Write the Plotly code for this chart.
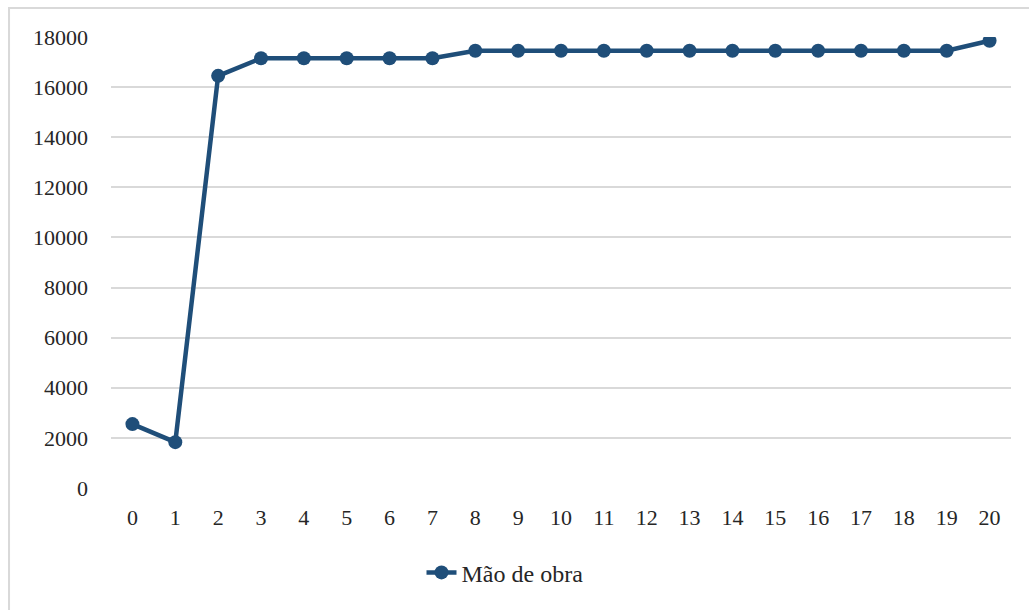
import plotly.graph_objects as go

# Periods on the horizontal axis and labour cost per period
periods = [str(i) for i in range(21)]
mao_de_obra = [2550, 1830, 16450, 17150, 17150, 17150, 17150, 17150,
               17450, 17450, 17450, 17450, 17450, 17450, 17450, 17450,
               17450, 17450, 17450, 17450, 17850]
y_ticks = list(range(0, 18001, 2000))
series_name = "Mão de obra"

line_color = "#1F4E79"
grid_color = "#D9D9D9"
font_family = "Liberation Serif"

fig = go.Figure()
fig.add_trace(go.Scatter(
    x=periods,
    y=mao_de_obra,
    mode="lines+markers",
    name=series_name,
    line=dict(color=line_color, width=4.5),
    marker=dict(color=line_color, size=14),
))

fig.update_layout(
    width=1029,
    height=610,
    margin=dict(l=111, r=18, t=37, b=122),
    paper_bgcolor="white",
    plot_bgcolor="white",
    font=dict(family=font_family, size=22, color="#262626"),
    showlegend=True,
    legend=dict(
        orientation="h",
        x=0.345, xanchor="left",
        y=-0.188, yanchor="middle",
        font=dict(family=font_family, size=24, color="#262626"),
        bgcolor="rgba(0,0,0,0)",
    ),
    xaxis=dict(
        type="category",
        range=[-0.5, 20.5],
        showgrid=False,
        showline=False,
        zeroline=False,
        ticks="",
        ticklabelstandoff=14,
        tickfont=dict(family=font_family, size=22),
    ),
    yaxis=dict(
        range=[0, 18000],
        tickvals=y_ticks,
        ticktext=[str(v) for v in y_ticks],
        showgrid=True,
        gridcolor=grid_color,
        gridwidth=1.5,
        zeroline=False,
        showline=False,
        ticks="",
        ticklabelstandoff=22,
        tickfont=dict(family=font_family, size=22),
    ),
    shapes=[
        # light frame around the chart area, open at right and bottom
        dict(type="rect", xref="paper", yref="paper",
             x0=-0.1133, x1=1.05, y0=-0.4, y1=1.0643,
             line=dict(color=grid_color, width=2), fillcolor="rgba(0,0,0,0)",
             layer="below"),
    ],
)

fig.write_html("out.html")
